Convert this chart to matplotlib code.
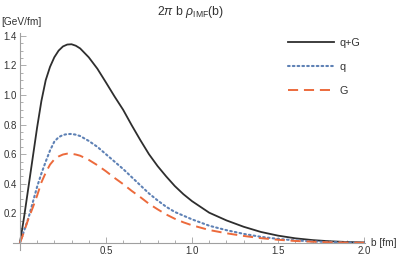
import numpy as np
import matplotlib
matplotlib.use("Agg")
import matplotlib.pyplot as plt

plt.rcParams['font.family'] = ['Liberation Sans', 'DejaVu Sans']
plt.rcParams['mathtext.fontset'] = 'custom'
plt.rcParams['mathtext.rm'] = 'Liberation Sans'
plt.rcParams['mathtext.it'] = 'Liberation Sans:italic'

# values
b = [0, 0.01, 0.025, 0.05, 0.075, 0.1, 0.125, 0.15, 0.175, 0.2, 0.225, 0.25, 0.275,
     0.3, 0.325, 0.35, 0.4, 0.45, 0.5, 0.55, 0.6, 0.65, 0.7, 0.75, 0.8, 0.85,
     0.9, 0.95, 1.0, 1.1, 1.2, 1.3, 1.4, 1.5, 1.6, 1.7, 1.8, 1.9, 2.0]
q = [0, 0.035, 0.085, 0.17, 0.275, 0.38, 0.47, 0.55, 0.625, 0.685, 0.715, 0.73, 0.736,
     0.737, 0.732, 0.723, 0.69, 0.65, 0.60, 0.55, 0.50, 0.445, 0.39, 0.335, 0.288, 0.245,
     0.21, 0.185, 0.16, 0.117, 0.087, 0.062, 0.042, 0.028, 0.018, 0.011, 0.007, 0.004, 0.002]
G = [0, 0.03, 0.08, 0.165, 0.24, 0.32, 0.41, 0.475, 0.53, 0.565, 0.585, 0.598, 0.604,
     0.603, 0.598, 0.59, 0.562, 0.526, 0.485, 0.44, 0.398, 0.352, 0.31, 0.265, 0.228, 0.193,
     0.164, 0.14, 0.12, 0.088, 0.066, 0.048, 0.033, 0.022, 0.014, 0.009, 0.005, 0.003, 0.002]
total = [0, 0.07, 0.18, 0.38, 0.58, 0.78, 0.96, 1.10, 1.19, 1.255, 1.30, 1.328, 1.341,
         1.343, 1.333, 1.315, 1.255, 1.178, 1.085, 0.99, 0.90, 0.795, 0.695, 0.60, 0.52, 0.45,
         0.385, 0.33, 0.283, 0.205, 0.153, 0.11, 0.075, 0.05, 0.032, 0.02, 0.012, 0.007, 0.004]

labels = ['q+G', 'q', 'G']

W, H = 407, 257
fig = plt.figure(figsize=(W / 100, H / 100), dpi=100)
ax = fig.add_axes([13 / W, 7 / H, 352 / W, 217 / H])

ax.plot(b, total, color='#2e2e2e', lw=1.3, label=labels[0], solid_joinstyle='round')
ax.plot(b, q, color='#5e81b5', lw=1.5, linestyle=(0, (0.8, 1.5)),
        dash_capstyle='round', label=labels[1])
ax.plot(b, G, color='#ec6a3c', lw=1.4, linestyle=(0, (5.2, 3.0)), label=labels[2])

ax.set_xlim(-0.04, 2.005)
ax.set_ylim(-0.047, 1.419)

for s in ['top', 'right']:
    ax.spines[s].set_visible(False)
for s in ['left', 'bottom']:
    ax.spines[s].set_position(('data', 0))
    ax.spines[s].set_color('#a0a0a0')
    ax.spines[s].set_linewidth(0.8)
ax.spines['left'].set_bounds(-0.047, 1.419)
ax.spines['bottom'].set_bounds(-0.04, 2.005)

ax.set_xticks([0.5, 1.0, 1.5, 2.0])
ax.set_xticklabels(['0.5', '1.0', '1.5', '2.0'])
ax.set_xticks(np.arange(0, 2.01, 0.1), minor=True)
ax.set_yticks([0.2, 0.4, 0.6, 0.8, 1.0, 1.2, 1.4])
ax.set_yticklabels(['0.2', '0.4', '0.6', '0.8', '1.0', '1.2', '1.4'])
ax.set_yticks(np.arange(0, 1.41, 0.05), minor=True)
ax.tick_params(which='both', direction='in', color='#a0a0a0', labelsize=7,
               labelcolor='#333333', width=0.6)
ax.tick_params(which='major', length=4, pad=2)
ax.tick_params(which='minor', length=2)
ax.patch.set_alpha(0)

fig.text(191 / W, 1 - 12 / H, r'$2\pi$ b $\rho_{\mathrm{IMF}}$(b)', ha='center',
         va='center', fontsize=8.8, color='#333333')
fig.text(1 / W, 1 - 22 / H, '[GeV/fm]', ha='left', va='center', fontsize=7.3,
         color='#333333')
fig.text(371 / W, 1 - 243 / H, 'b [fm]', ha='left', va='center', fontsize=7.3,
         color='#333333')

ax.legend(loc='upper left', bbox_to_anchor=(288 / W, 1 - 38 / H),
          bbox_transform=fig.transFigure, frameon=False, fontsize=7.8,
          handlelength=4.2, handletextpad=0.55, labelspacing=1.3,
          borderpad=0, borderaxespad=0, labelcolor='#333333')

fig.savefig('out.png', dpi=100)
